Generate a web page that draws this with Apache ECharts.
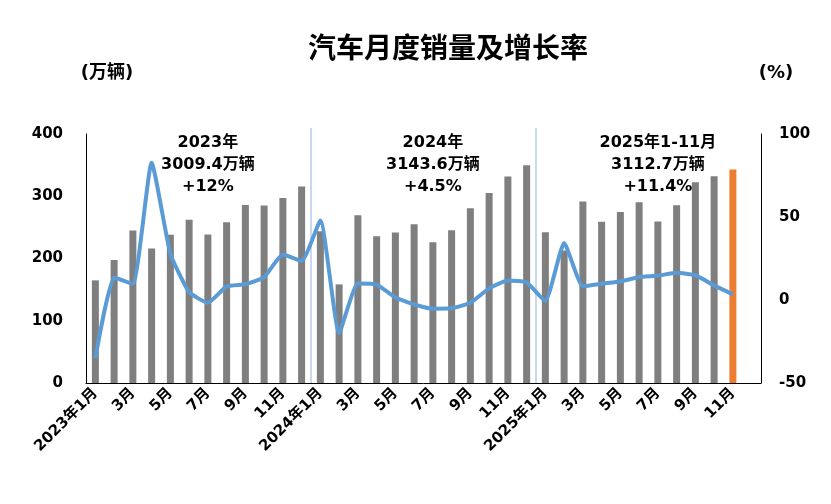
<!DOCTYPE html>
<html><head><meta charset="utf-8">
<script src="https://cdn.jsdelivr.net/npm/echarts@6/dist/echarts.min.js"></script>
<style>html,body{margin:0;padding:0;background:#fff}#c{width:831px;height:504px}</style>
</head><body><div id="c"></div>
<script>
const categories = [
 '2023年1月','2月','3月','4月','5月','6月','7月','8月','9月','10月','11月','12月',
 '2024年1月','2月','3月','4月','5月','6月','7月','8月','9月','10月','11月','12月',
 '2025年1月','2月','3月','4月','5月','6月','7月','8月','9月','10月','11月','12月'
];
const sales = [
 164.9,197.6,245.1,216.0,238.2,262.2,238.7,258.2,285.8,285.3,297.0,315.6,
 243.9,158.4,269.4,235.9,241.7,255.2,226.2,245.3,280.9,305.3,331.6,349.9,
 242.3,212.9,291.5,259.0,274.8,290.4,259.3,285.7,322.6,332.2,342.9,null
];
const growth = [
 -35.0,13.5,9.7,82.7,27.9,4.8,-1.7,8.2,9.5,13.8,27.4,23.5,
 47.9,-19.9,9.9,9.3,1.5,-2.7,-5.2,-5.0,-1.7,7.0,11.7,10.5,
 -0.6,34.4,8.2,9.8,11.2,13.8,14.7,16.4,14.9,8.8,3.4,null
];
const leftTicks = [0,100,200,300,400];
const rightTicks = [-50,0,50,100];
const yearNotes = [
 ['2023年','3009.4万辆','+12%'],
 ['2024年','3143.6万辆','+4.5%'],
 ['2025年1-11月','3112.7万辆','+11.4%']
];
const yearStartIdx = [0,12,24];
const lastIdx = 34;

const chart = echarts.init(document.getElementById('c'));
const FONT = '"DejaVu Sans", "Noto Sans CJK SC", sans-serif';
const CJK = '"Noto Sans CJK SC", sans-serif';
const barData = sales.map((v,i)=> i===lastIdx ? {value:v,itemStyle:{color:'#ED7D31'}} : v);

chart.setOption({
  animation:false,
  textStyle:{fontFamily:FONT},
  grid:{left:86,right:70,top:134,bottom:121},
  xAxis:{type:'category',data:categories,boundaryGap:true,
    axisLine:{lineStyle:{color:'#000',width:1}},axisTick:{show:false},
    axisLabel:{interval:1,rotate:45,fontSize:15,fontWeight:'bold',color:'#000',margin:8,fontFamily:FONT}},
  yAxis:[
    {type:'value',min:leftTicks[0],max:leftTicks[leftTicks.length-1],interval:100,
     axisLine:{show:true,lineStyle:{color:'#000'}},axisTick:{show:false},splitLine:{show:false},
     axisLabel:{fontSize:15,fontWeight:'bold',color:'#000',margin:23,fontFamily:FONT}},
    {type:'value',min:rightTicks[0],max:rightTicks[rightTicks.length-1],interval:50,
     axisLine:{show:true,lineStyle:{color:'#000'}},axisTick:{show:false},splitLine:{show:false},
     axisLabel:{fontSize:15,fontWeight:'bold',color:'#000',margin:18,fontFamily:FONT}}
  ],
  series:[
    {type:'bar',data:barData,barWidth:7,itemStyle:{color:'#7F7F7F'},yAxisIndex:0},
    {type:'line',data:growth,yAxisIndex:1,smooth:0.15,showSymbol:false,
     lineStyle:{color:'#5B9BD5',width:4},itemStyle:{color:'#5B9BD5'},z:5}
  ]
});

const gfx = [];
gfx.push({type:'text',x:448,y:47,style:{text:'汽车月度销量及增长率',fill:'#000',
  font:'bold 28px '+CJK,align:'center',verticalAlign:'middle'}});
gfx.push({type:'text',x:107,y:73,style:{text:'(万辆)',fill:'#000',
  font:'bold 18px '+FONT,align:'center',verticalAlign:'middle'}});
gfx.push({type:'text',x:776,y:73,style:{text:'(%)',fill:'#000',
  font:'bold 18px '+FONT,align:'center',verticalAlign:'middle'}});
const bottomY = chart.convertToPixel({yAxisIndex:0},0);
[12,24].forEach(idx=>{
  const x = (chart.convertToPixel({xAxisIndex:0},idx-1)+chart.convertToPixel({xAxisIndex:0},idx))/2;
  gfx.push({type:'line',shape:{x1:x,y1:128,x2:x,y2:bottomY},
    style:{stroke:'#8DB4E2',lineWidth:1},z:1});
});
yearNotes.forEach((lines,k)=>{
  const px = chart.convertToPixel({xAxisIndex:0},yearStartIdx[k]+5.5);
  gfx.push({type:'text',x:px,y:132,z:10,
    style:{text:lines.join('\n'),fill:'#000',font:'bold 16px '+FONT,
      align:'center',verticalAlign:'top',lineHeight:22}});
});
chart.setOption({graphic:gfx});
</script></body></html>
